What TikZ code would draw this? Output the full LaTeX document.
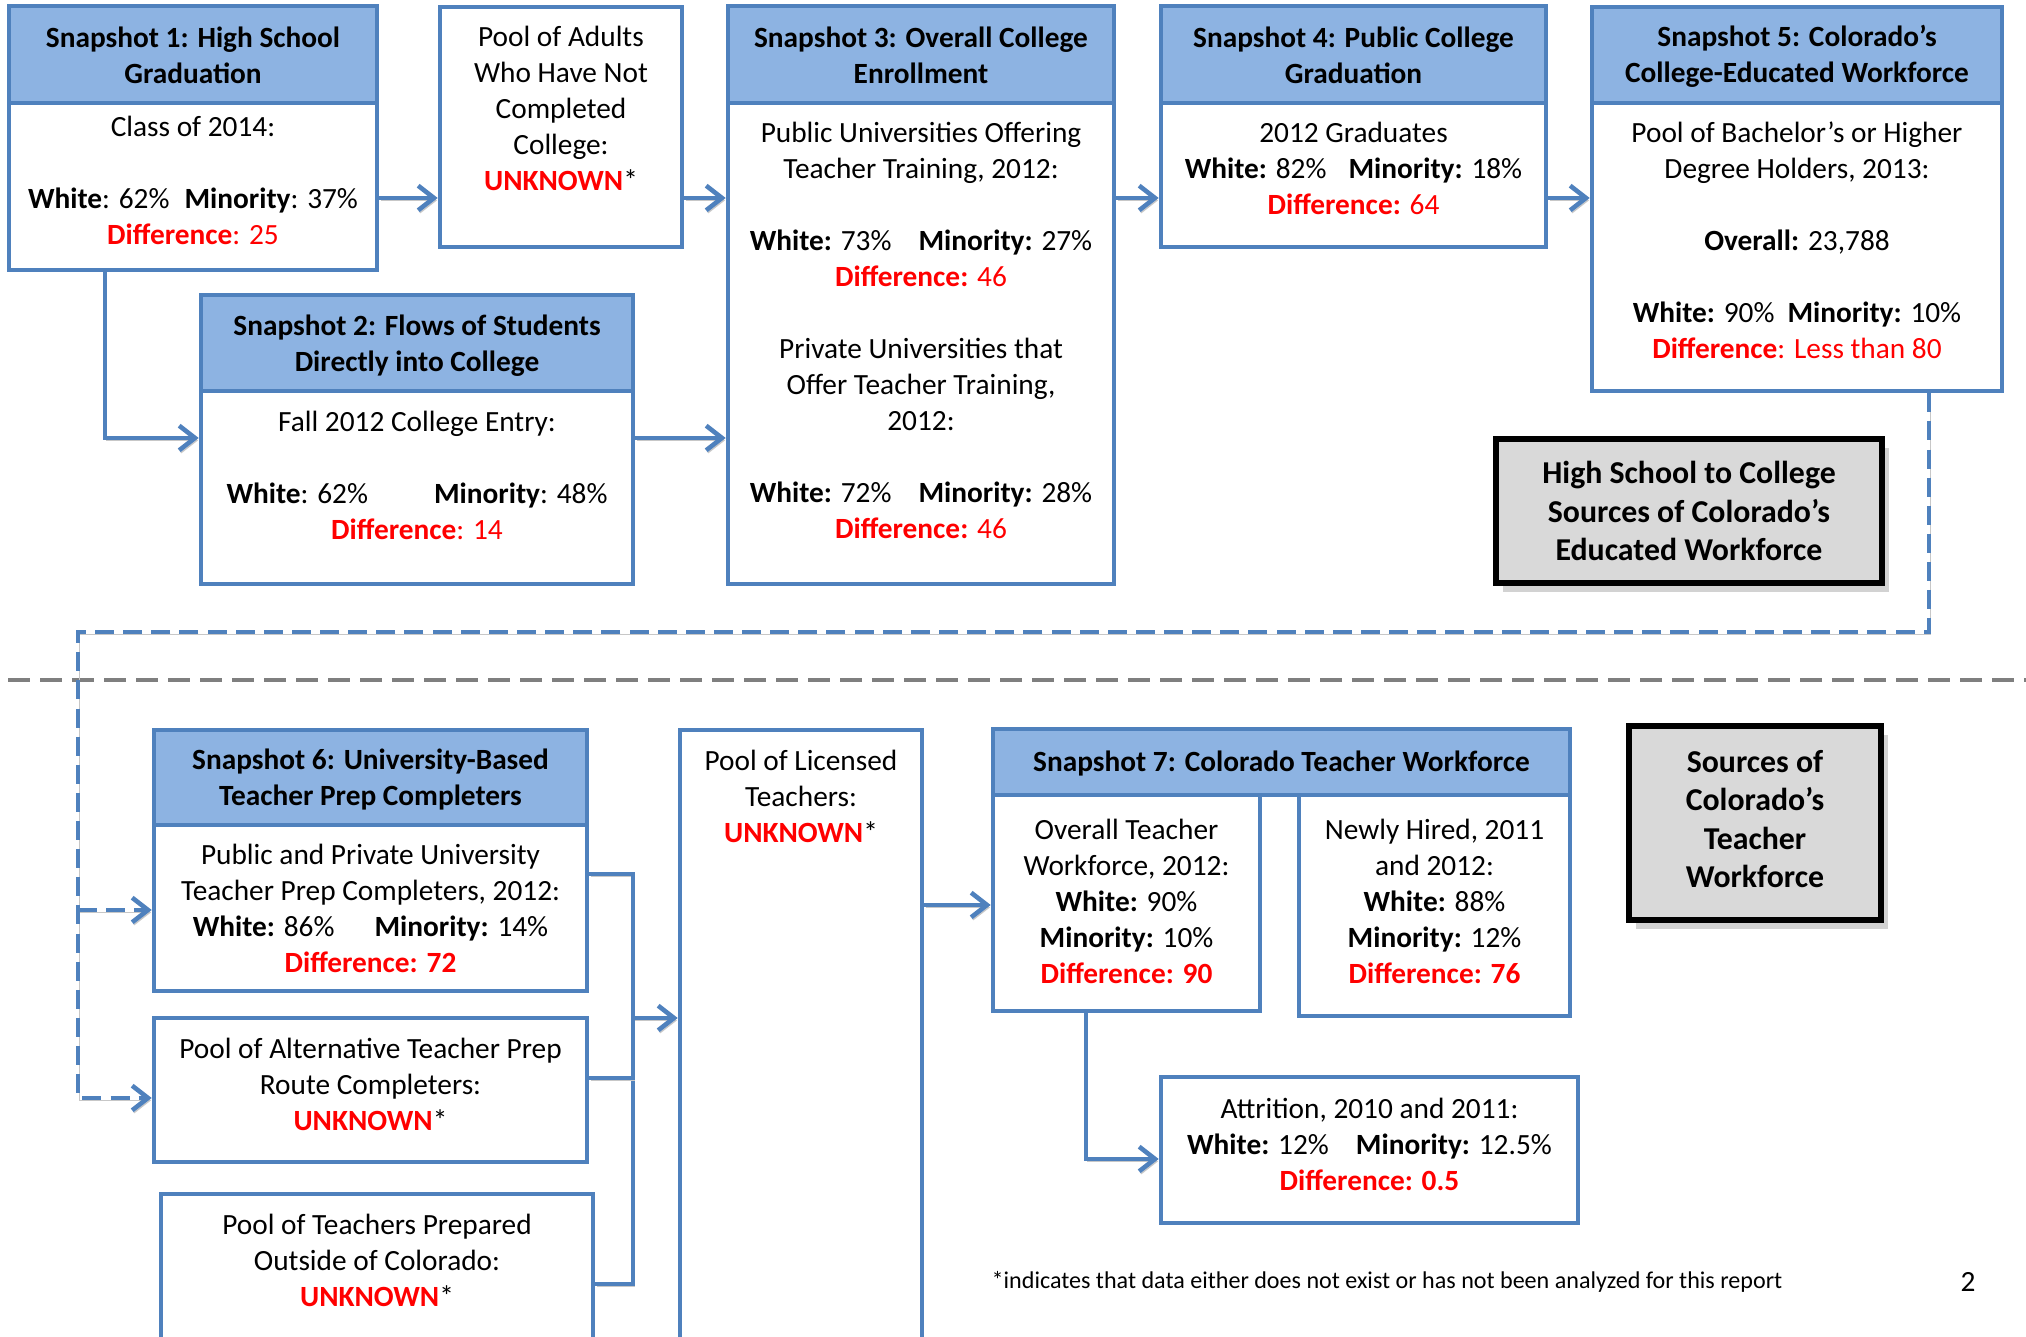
\documentclass[tikz,border=0pt]{standalone}
\usepackage{fontspec}
\setmainfont{Carlito}
\usetikzlibrary{arrows.meta,fit,shadows,calc}
\definecolor{bblue}{HTML}{4F81BD}
\definecolor{hblue}{HTML}{8DB3E2}
\definecolor{rred}{HTML}{FF0000}
\definecolor{lgray}{HTML}{D9D9D9}
\definecolor{dgray}{HTML}{7F7F7F}
\newcommand{\unk}{\textcolor{rred}{\textbf{UNKNOWN}}*}
\begin{document}
\begin{tikzpicture}[x=0.01cm,y=-0.01cm,
  bx/.style={draw=bblue, line width=1.3pt, inner sep=0pt, fill=white},
  hd/.style={bx, fill=hblue},
  txt/.style={align=center, inner sep=0pt, font=\fontsize{8.34}{10.24}\selectfont},
  htxt/.style={align=center, inner sep=0pt, font=\fontsize{8.34}{10.24}\selectfont\bfseries},
  lg/.style={draw=black, line width=1.8pt, fill=lgray, inner sep=0pt,
    drop shadow={shadow xshift=2pt, shadow yshift=-2.5pt, opacity=0.35}},
  lgtxt/.style={align=center, inner sep=0pt, font=\fontsize{9.05}{10.95}\selectfont\bfseries},
  ln/.style={draw=bblue, line width=1.3pt,
    preaction={draw=black!22, transform canvas={xshift=0.5pt, yshift=-0.7pt}}},
  arr/.style={ln, -{Straight Barb[length=4.5pt,width=7pt]}},
  darr/.style={arr, dash pattern=on 5.4pt off 2.6pt},
  divider/.style={draw=dgray, line width=1.4pt, dash pattern=on 6.3pt off 2.8pt},
]
\clip (0,0) rectangle (2026,1337);
\fill[white] (0,0) rectangle (2026,1337);
% helper coordinates
\coordinate (y198) at (0,198);
\coordinate (y438) at (0,438);
\coordinate (y632) at (0,632);
\coordinate (y874) at (0,874);
\coordinate (y905) at (0,905);
\coordinate (y910) at (0,910);
\coordinate (y1018) at (0,1018);
\coordinate (y1078) at (0,1078);
\coordinate (y1098) at (0,1098);
\coordinate (y1159) at (0,1159);
\coordinate (y1284) at (0,1284);
\coordinate (x78) at (78,0);
\coordinate (x105) at (105,0);
\coordinate (x633) at (633,0);
\coordinate (x1086) at (1086,0);
\coordinate (x1929) at (1929,0);

% divider
\draw[divider] (8,680) -- (2026,680);

% ---------- top boxes ----------
\node[hd, fit={(9,6) (377,103)}] (s1h) {};
\node[bx, fit={(9,103) (377,270)}] (s1b) {};
\node[htxt] (s1ht) at (193,55) {Snapshot 1: High School\\Graduation};
\node[txt] (s1bt) at (193,180) {Class of 2014:\\[10.24pt]\textbf{White}: 62\%\hspace{0.15cm}\textbf{Minority}: 37\%\\\textcolor{rred}{\textbf{Difference}: 25}};

\node[bx, fit={(440,7) (682,247)}] (p1) {};
\node[txt] (p1t) at (561,108) {Pool of Adults\\Who Have Not\\Completed\\College:\\\unk};

\node[hd, fit={(201,295) (633,391)}] (s2h) {};
\node[bx, fit={(201,391) (633,584)}] (s2b) {};
\node[htxt] (s2ht) at (417,345.5) {Snapshot 2: Flows of Students\\Directly into College};
\node[txt] (s2bt) at (417,475.5) {Fall 2012 College Entry:\\[10.24pt]\textbf{White}: 62\%\hspace{0.66cm}\textbf{Minority}: 48\%\\\textcolor{rred}{\textbf{Difference}: 14}};

\node[hd, fit={(728,6) (1114,103)}] (s3h) {};
\node[bx, fit={(728,103) (1114,584)}] (s3b) {};
\node[htxt] (s3ht) at (921,55) {Snapshot 3: Overall College\\Enrollment};
\node[txt] (s3bt) at (921,330.5) {Public Universities Offering\\Teacher Training, 2012:\\[10.24pt]\textbf{White:} 73\%\hspace{0.27cm}\textbf{Minority:} 27\%\\\textcolor{rred}{\textbf{Difference:} 46}\\[10.24pt]Private Universities that\\Offer Teacher Training,\\2012:\\[10.24pt]\textbf{White:} 72\%\hspace{0.27cm}\textbf{Minority:} 28\%\\\textcolor{rred}{\textbf{Difference:} 46}};

\node[hd, fit={(1161,6) (1546,103)}] (s4h) {};
\node[bx, fit={(1161,103) (1546,247)}] (s4b) {};
\node[htxt] (s4ht) at (1353.5,55) {Snapshot 4: Public College\\Graduation};
\node[txt] (s4bt) at (1353.5,168.5) {2012 Graduates\\\textbf{White:} 82\%\hspace{0.22cm}\textbf{Minority:} 18\%\\\textcolor{rred}{\textbf{Difference:} 64}};

\node[hd, fit={(1592,7) (2002,103)}] (s5h) {};
\node[bx, fit={(1592,103) (2002,391)}] (s5b) {};
\node[htxt] (s5ht) at (1797,56) {Snapshot 5: Colorado’s\\College-Educated Workforce};
\node[txt] (s5bt) at (1797,240.5) {Pool of Bachelor’s or Higher\\Degree Holders, 2013:\\[10.24pt]\textbf{Overall:} 23,788\\[10.24pt]\textbf{White:} 90\%\hspace{0.13cm}\textbf{Minority:} 10\%\\\textcolor{rred}{\textbf{Difference}: Less than 80}};

\node[lg, fit={(1496,439) (1882,583)}] (lg1) {};
\node[lgtxt] (lg1t) at (1689,511) {High School to College\\Sources of Colorado’s\\Educated Workforce};

% ---------- bottom boxes ----------
\node[hd, fit={(154,730) (587,825)}] (s6h) {};
\node[bx, fit={(154,825) (587,991)}] (s6b) {};
\node[htxt] (s6ht) at (370.5,780) {Snapshot 6: University-Based\\Teacher Prep Completers};
\node[txt] (s6bt) at (370.5,908.5) {Public and Private University\\Teacher Prep Completers, 2012:\\\textbf{White:} 86\%\hspace{0.40cm}\textbf{Minority:} 14\%\\\textcolor{rred}{\textbf{Difference: 72}}};

\node[bx, fit={(154,1018) (587,1162)}] (alt) {};
\node[txt] (altt) at (370.5,1084.5) {Pool of Alternative Teacher Prep\\Route Completers:\\\unk};

\node[bx, fit={(161,1194) (593,1360)}] (out) {};
\node[txt] (outt) at (377,1260.5) {Pool of Teachers Prepared\\Outside of Colorado:\\\unk};

\node[bx, fit={(680,730) (922,1360)}] (lic) {};
\node[txt] (lict) at (801,796.5) {Pool of Licensed\\Teachers:\\\unk};

\node[hd, fit={(993,729) (1570,795)}] (s7h) {};
\node[bx, fit={(993,795) (1260,1011)}] (ov) {};
\node[bx, fit={(1299,795) (1570,1016)}] (nh) {};
\node[htxt] (s7ht) at (1281.5,764) {Snapshot 7: Colorado Teacher Workforce};
\node[txt] (ovt) at (1126.5,901.5) {Overall Teacher\\Workforce, 2012:\\\textbf{White:} 90\%\\\textbf{Minority:} 10\%\\\textcolor{rred}{\textbf{Difference: 90}}};
\node[txt] (nht) at (1434.5,901.5) {Newly Hired, 2011\\and 2012:\\\textbf{White:} 88\%\\\textbf{Minority:} 12\%\\\textcolor{rred}{\textbf{Difference: 76}}};

\node[bx, fit={(1161,1077) (1578,1223)}] (att) {};
\node[txt] (attt) at (1369.5,1144.5) {Attrition, 2010 and 2011:\\\textbf{White:} 12\%\hspace{0.27cm}\textbf{Minority:} 12.5\%\\\textcolor{rred}{\textbf{Difference: 0.5}}};

\node[lg, fit={(1629,726) (1881,920)}] (lg2) {};
\node[lgtxt] (lg2t) at (1755,819) {Sources of\\Colorado’s\\Teacher\\Workforce};

\node[anchor=west, inner sep=0pt, font=\fontsize{6.85}{8.2}\selectfont] (foot) at (991,1282) {*indicates that data either does not exist or has not been analyzed for this report};
\node[inner sep=0pt, font=\fontsize{8.34}{10.24}\selectfont] (pg) at (1968,1282) {2};

% ---------- connectors ----------
\draw[arr] (s1b.east |- y198) -- (p1.west |- y198);
\draw[arr] (p1.east |- y198) -- (s3b.west |- y198);
\draw[arr] (s3b.east |- y198) -- (s4b.west |- y198);
\draw[arr] (s4b.east |- y198) -- (s5b.west |- y198);
\draw[arr] (s1b.south -| x105) |- (s2b.west |- y438);
\draw[arr] (s2b.east |- y438) -- (s3b.west |- y438);

\draw[darr] (s5b.south -| x1929) |- (x78 |- y632) |- (alt.west |- y1098);
\draw[darr] (x78 |- y910) -- (s6b.west |- y910);

\draw[ln] (s6b.east |- y874) -| (x633 |- y1284) -- (out.east |- y1284);
\draw[ln] (alt.east |- y1078) -- (x633 |- y1078);
\draw[arr] (x633 |- y1018) -- (lic.west |- y1018);
\draw[arr] (lic.east |- y905) -- (ov.west |- y905);
\draw[arr] (ov.south -| x1086) |- (att.west |- y1159);
\end{tikzpicture}
\end{document}
